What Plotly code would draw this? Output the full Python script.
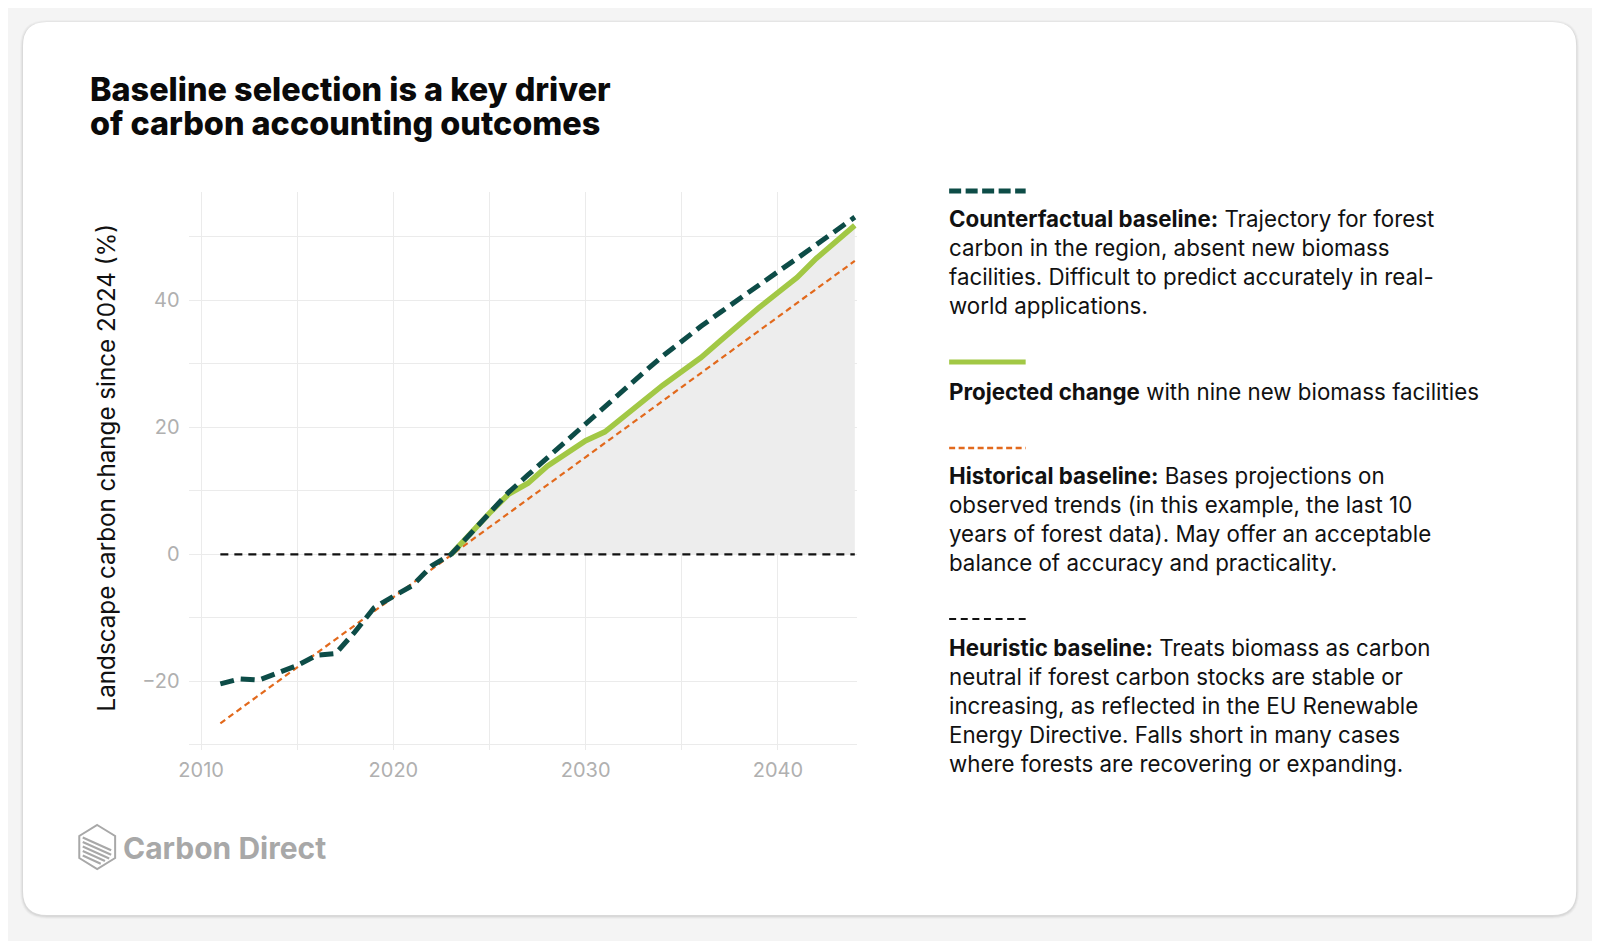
import plotly.graph_objects as go

W, H = 1600, 941
# the page puts the figure a little right and down; pull the layout back
OX, OY = -15, -8

# Data
cf_years = list(range(2011, 2045))
cf_values = [-20.4, -19.6, -19.8, -18.7, -17.5, -15.9, -15.6, -12.2, -8.4, -6.6,
             -4.9, -1.8, 0.0, 3.2, 6.5, 9.8, 12.5, 15.2, 18.0, 20.7,
             23.4, 26.0, 28.6, 31.2, 33.6, 35.9, 38.1, 40.3, 42.4, 44.5,
             46.6, 48.8, 51.0, 53.1]

proj_years = list(range(2023, 2045))
proj_values = [0.0, 3.3, 6.5, 9.5, 11.2, 13.9, 15.9, 17.9, 19.3, 21.8, 24.3,
               26.6, 28.8, 31.0, 33.6, 36.3, 38.8, 41.2, 43.6, 46.6, 49.3, 51.8]

hist_years = [2011, 2044]
hist_values = [-26.6, 46.2]

zero_years = [2011, 2044]
zero_values = [0, 0]

x_ticks = [2010, 2020, 2030, 2040]
y_ticks = [-20, 0, 20, 40]

DARK = "#0D4C47"
GREEN = "#A2C845"
ORANGE = "#E2691C"
FILL = "#EDEDED"
GRID = "#EBEBEB"
TICK = "#B0B0B0"
LOGO = "#A8A8A8"
FONT = "Inter"


def px(x):
    return (x + OX) / W


def py(y):
    return 1 - (y + OY) / H


def rounded_rect(x0, y0, x1, y1, r):
    # path in paper coordinates from pixel corners
    pts = [
        f"M {px(x0 + r)} {py(y0)}",
        f"L {px(x1 - r)} {py(y0)}",
        f"Q {px(x1)} {py(y0)} {px(x1)} {py(y0 + r)}",
        f"L {px(x1)} {py(y1 - r)}",
        f"Q {px(x1)} {py(y1)} {px(x1 - r)} {py(y1)}",
        f"L {px(x0 + r)} {py(y1)}",
        f"Q {px(x0)} {py(y1)} {px(x0)} {py(y1 - r)}",
        f"L {px(x0)} {py(y0 + r)}",
        f"Q {px(x0)} {py(y0)} {px(x0 + r)} {py(y0)} Z",
    ]
    return " ".join(pts)


fig = go.Figure()

# shaded area under projected change
fig.add_trace(go.Scatter(x=proj_years, y=proj_values, mode="lines", fill="tozeroy",
                         fillcolor=FILL, line=dict(width=0), hoverinfo="skip"))
fig.add_trace(go.Scatter(x=hist_years, y=hist_values, mode="lines",
                         line=dict(color=ORANGE, width=2.2, dash="6px,4px")))
fig.add_trace(go.Scatter(x=zero_years, y=zero_values, mode="lines",
                         line=dict(color="#111111", width=2.2, dash="8px,6px")))
fig.add_trace(go.Scatter(x=proj_years, y=proj_values, mode="lines",
                         line=dict(color=GREEN, width=5.5)))
fig.add_trace(go.Scatter(x=cf_years, y=cf_values, mode="lines",
                         line=dict(color=DARK, width=5, dash="14px,7px")))

shapes = []
# page shadow + card
for i, op in enumerate([0.025, 0.035, 0.05]):
    g = 3 - i
    shapes.append(dict(type="path", xref="paper", yref="paper", layer="below",
                       path=rounded_rect(20 - g, 22 - g + 1, 1583 + g, 915 + g + 1, 24 + g),
                       fillcolor=f"rgba(0,0,0,{op})", line=dict(width=0)))
shapes.append(dict(type="path", xref="paper", yref="paper", layer="below",
                   path=rounded_rect(20, 22, 1583, 915, 24),
                   fillcolor="white", line=dict(width=0)))

# legend glyphs
glyphs = [
    (191, DARK, 5, "12px,4.5px"),
    (362, GREEN, 5, "solid"),
    (448, ORANGE, 2.5, "6px,3.5px"),
    (619, "#111111", 2, "7px,4.6px"),
]
for gy, col, w, dash in glyphs:
    shapes.append(dict(type="line", xref="paper", yref="paper",
                       x0=px(952), x1=px(1029), y0=py(gy), y1=py(gy),
                       line=dict(color=col, width=w, dash=dash)))

# logo hexagon
cx, cy, r = 94.7, 847, 22
hw = r * 0.82
hex_pts = [(cx, cy - r), (cx + hw, cy - r / 2), (cx + hw, cy + r / 2),
           (cx, cy + r), (cx - hw, cy + r / 2), (cx - hw, cy - r / 2)]
hex_path = "M " + " L ".join(f"{px(a)} {py(b)}" for a, b in hex_pts) + " Z"
shapes.append(dict(type="path", xref="paper", yref="paper", path=hex_path,
                   line=dict(color=LOGO, width=2)))
slope = 0.45
edge_k = (r / 2) / hw
for y0s in [837.5, 842, 846.5, 851, 855.5]:
    x0s = cx - hw + 3.5
    # stop the stripe at the right or lower-right edge of the hexagon
    xe = (cy + r - y0s + slope * x0s + edge_k * cx) / (slope + edge_k)
    xe = min(xe - 3, cx + hw - 4)
    shapes.append(dict(type="line", xref="paper", yref="paper",
                       x0=px(x0s), y0=py(y0s), x1=px(xe), y1=py(y0s + slope * (xe - x0s)),
                       line=dict(color=LOGO, width=2.2)))

annotations = []
# title
title_font = dict(family=FONT, size=32.4, color="#0A0A0A", weight=800)
annotations.append(dict(text="Baseline selection is a key driver", x=px(85), y=py(90),
                        xref="paper", yref="paper", xanchor="left", yanchor="middle",
                        showarrow=False, font=title_font))
annotations.append(dict(text="of carbon accounting outcomes", x=px(85), y=py(123.5),
                        xref="paper", yref="paper", xanchor="left", yanchor="middle",
                        showarrow=False, font=title_font))

# y axis title
annotations.append(dict(text="Landscape carbon change since 2024 (%)", x=px(105), y=py(467),
                        xref="paper", yref="paper", xanchor="center", yanchor="middle",
                        textangle=-90, showarrow=False,
                        font=dict(family=FONT, size=24.2, color="#111111")))

# legend descriptions
legend_text = [
    (262.5, "<b>Counterfactual baseline:</b> Trajectory for forest<br>carbon in the region, absent new biomass<br>"
            "facilities. Difficult to predict accurately in real-<br>world applications."),
    (391, "<b>Projected change</b> with nine new biomass facilities"),
    (519, "<b>Historical baseline:</b> Bases projections on<br>observed trends (in this example, the last 10<br>"
          "years of forest data). May offer an acceptable<br>balance of accuracy and practicality."),
    (705.5, "<b>Heuristic baseline:</b> Treats biomass as carbon<br>neutral if forest carbon stocks are stable or<br>"
            "increasing, as reflected in the EU Renewable<br>Energy Directive. Falls short in many cases<br>"
            "where forests are recovering or expanding."),
]
for ly, txt in legend_text:
    annotations.append(dict(text=txt, x=px(950), y=py(ly), xref="paper", yref="paper",
                            xanchor="left", yanchor="middle", align="left", showarrow=False,
                            font=dict(family=FONT, size=22.3, color="#111111")))

# logo text
annotations.append(dict(text="<b>Carbon Direct</b>", x=px(119), y=py(848), xref="paper", yref="paper",
                        xanchor="left", yanchor="middle", showarrow=False,
                        font=dict(family=FONT, size=30, color=LOGO)))

fig.update_layout(
    width=W, height=H, autosize=False,
    margin=dict(l=0, r=0, t=0, b=0),
    paper_bgcolor="#F4F4F4", plot_bgcolor="rgba(0,0,0,0)",
    showlegend=False,
    shapes=shapes, annotations=annotations,
    font=dict(family=FONT),
    xaxis=dict(domain=[px(186.7), px(859)], range=[2009.35, 2044.1],
               tickvals=x_ticks, ticktext=[str(v) for v in x_ticks],
               showgrid=True, gridcolor=GRID, gridwidth=1.3, zeroline=False,
               showline=False, ticks="", ticklabelstandoff=6,
               tickfont=dict(family=FONT, size=20, color=TICK),
               minor=dict(tickvals=[2015, 2025, 2035], showgrid=True, gridcolor=GRID, gridwidth=1)),
    yaxis=dict(domain=[py(750), py(191.7)], range=[-30.8, 57.1],
               tickvals=y_ticks, ticktext=["\u221220", "0", "20", "40"],
               showgrid=True, gridcolor=GRID, gridwidth=1.3, zeroline=False,
               showline=False, ticks="", ticklabelstandoff=8,
               tickfont=dict(family=FONT, size=20, color=TICK),
               minor=dict(tickvals=[-30, -10, 10, 30, 50], showgrid=True, gridcolor=GRID, gridwidth=1)),
)

fig.write_html("out.html")
